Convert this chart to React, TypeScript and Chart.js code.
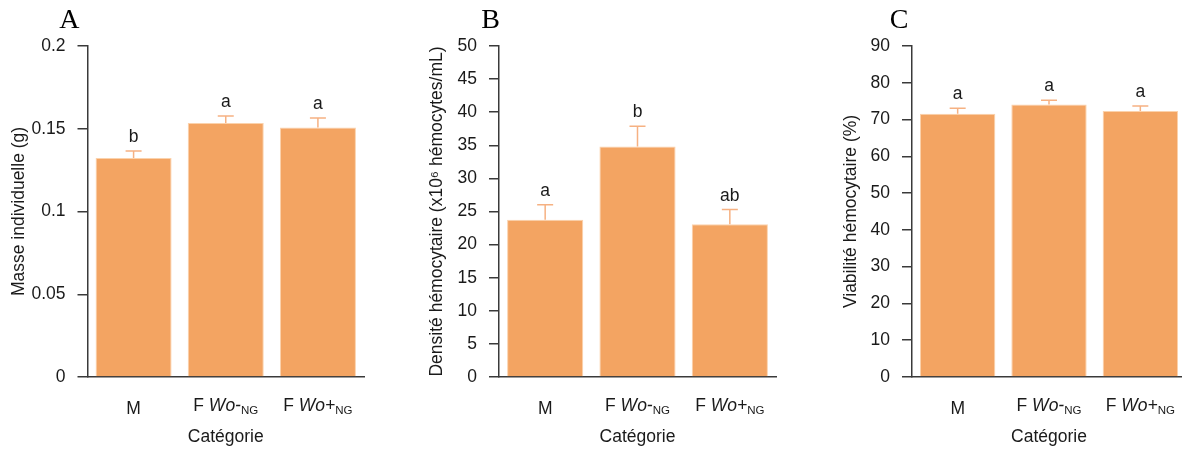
import React, { useEffect, useRef } from 'react';
import { Chart, registerables } from 'chart.js';

Chart.register(...registerables);

// ---------- data ----------
const categories = ['M', 'F Wo-NG', 'F Wo+NG'];

const massMean = [0.1323, 0.1535, 0.1507];
const massSE = [0.0043, 0.0042, 0.0058];
const massLetters = ['b', 'a', 'a'];
const massTickValues = [0, 0.05, 0.1, 0.15, 0.2];
const massTickLabels = ['0', '0.05', '0.1', '0.15', '0.2'];

const densityMean = [23.74, 34.8, 23.09];
const densitySE = [2.27, 3.08, 2.21];
const densityLetters = ['a', 'b', 'ab'];
const densityTickValues = [0, 5, 10, 15, 20, 25, 30, 35, 40, 45, 50];
const densityTickLabels = ['0', '5', '10', '15', '20', '25', '30', '35', '40', '45', '50'];

const viabilityMean = [71.6, 74.06, 72.3];
const viabilitySE = [1.5, 1.16, 1.36];
const viabilityLetters = ['a', 'a', 'a'];
const viabilityTickValues = [0, 10, 20, 30, 40, 50, 60, 70, 80, 90];
const viabilityTickLabels = ['0', '10', '20', '30', '40', '50', '60', '70', '80', '90'];

type Part = { text: string; italic?: boolean; sub?: boolean };
const categoryLabelParts: Part[][] = [
  [{ text: 'M' }],
  [{ text: 'F ' }, { text: 'Wo-', italic: true }, { text: 'NG', sub: true }],
  [{ text: 'F ' }, { text: 'Wo+', italic: true }, { text: 'NG', sub: true }],
];

// ---------- style ----------
const FONT = '"Liberation Sans", Arial, sans-serif';
const SERIF = '"Liberation Serif", "Times New Roman", serif';
const BAR_COLOR = '#F3A462';
const BAR_EDGE = '#FBD2AC';
const ERR_COLOR = '#F6B182';
const AXIS_COLOR = '#3a3a3a';
const TEXT_COLOR = '#1a1a1a';
const H = 452;

type PanelCfg = {
  left: number;
  width: number;
  areaLeft: number;
  areaRight: number;
  letter: string;
  letterX: number;
  yTitle: string;
  yTitlePad: number;
  mean: number[];
  se: number[];
  sig: string[];
  yMax: number;
  tickValues: number[];
  tickLabels: string[];
};

const panels: PanelCfg[] = [
  {
    left: 0, width: 410, areaLeft: 87.5, areaRight: 364,
    letter: 'A', letterX: 69.3,
    yTitle: 'Masse individuelle (g)', yTitlePad: 8.5,
    mean: massMean, se: massSE, sig: massLetters, yMax: 0.2,
    tickValues: massTickValues, tickLabels: massTickLabels,
  },
  {
    left: 410, width: 410, areaLeft: 89, areaRight: 366,
    letter: 'B', letterX: 80.5,
    yTitle: 'Densité hémocytaire (x10\u2076 hémocytes/mL)', yTitlePad: 16.7,
    mean: densityMean, se: densitySE, sig: densityLetters, yMax: 50,
    tickValues: densityTickValues, tickLabels: densityTickLabels,
  },
  {
    left: 820, width: 370, areaLeft: 92, areaRight: 366,
    letter: 'C', letterX: 79,
    yTitle: 'Viabilité hémocytaire (%)', yTitlePad: 20.5,
    mean: viabilityMean, se: viabilitySE, sig: viabilityLetters, yMax: 90,
    tickValues: viabilityTickValues, tickLabels: viabilityTickLabels,
  },
];

function partFont(p: Part) {
  if (p.sub) return `11.5px ${FONT}`;
  return `${p.italic ? 'italic ' : ''}17.5px ${FONT}`;
}

function Panel({ cfg }: { cfg: PanelCfg }) {
  const ref = useRef<HTMLCanvasElement | null>(null);

  useEffect(() => {
    if (!ref.current) return;
    const overlay = {
      id: 'overlay',
      afterDraw(chart: any) {
        const { ctx, chartArea } = chart;
        const x = chart.scales.x;
        const y = chart.scales.y;
        ctx.save();
        // error bars + significance letters
        cfg.mean.forEach((m, i) => {
          const cx = x.getPixelForValue(i);
          const y0 = y.getPixelForValue(m);
          const y1 = y.getPixelForValue(m + cfg.se[i]);
          ctx.strokeStyle = ERR_COLOR;
          ctx.lineWidth = 1.5;
          ctx.beginPath();
          ctx.moveTo(cx, y0);
          ctx.lineTo(cx, y1);
          ctx.moveTo(cx - 8, y1);
          ctx.lineTo(cx + 8, y1);
          ctx.stroke();
          ctx.fillStyle = TEXT_COLOR;
          ctx.font = `17.5px ${FONT}`;
          ctx.textAlign = 'center';
          ctx.textBaseline = 'alphabetic';
          ctx.fillText(cfg.sig[i], cx, y1 - 9);
        });
        // category labels (rich text)
        categoryLabelParts.forEach((parts, i) => {
          const cx = x.getPixelForValue(i);
          const hasSub = parts.some((p) => p.sub);
          const base = chartArea.bottom + (hasSub ? 33.7 : 37);
          let total = 0;
          parts.forEach((p) => {
            ctx.font = partFont(p);
            total += ctx.measureText(p.text).width;
          });
          let px = cx - total / 2;
          ctx.textAlign = 'left';
          ctx.textBaseline = 'alphabetic';
          ctx.fillStyle = TEXT_COLOR;
          parts.forEach((p) => {
            ctx.font = partFont(p);
            ctx.fillText(p.text, px, p.sub ? base + 3.6 : base);
            px += ctx.measureText(p.text).width;
          });
        });
        // panel letter
        ctx.font = `28px ${SERIF}`;
        ctx.textAlign = 'center';
        ctx.textBaseline = 'middle';
        ctx.fillStyle = '#000';
        ctx.fillText(cfg.letter, cfg.letterX, 20.5);
        ctx.restore();
      },
    };

    const chart = new Chart(ref.current, {
      type: 'bar',
      data: {
        labels: categories,
        datasets: [
          {
            data: cfg.mean,
            backgroundColor: BAR_COLOR,
            borderColor: BAR_EDGE,
            borderWidth: 1,
            barPercentage: 0.825,
            categoryPercentage: 1,
          },
        ],
      },
      options: {
        responsive: false,
        animation: false,
        layout: {
          padding: { top: 46, right: cfg.width - cfg.areaRight, left: 0, bottom: 0 },
        },
        plugins: {
          legend: { display: false },
          tooltip: { enabled: false },
        },
        scales: {
          x: {
            grid: { display: false },
            border: { display: true, color: AXIS_COLOR, width: 1.5 },
            ticks: { display: false },
            title: {
              display: true,
              text: 'Catégorie',
              color: TEXT_COLOR,
              font: { family: FONT, size: 17.5 },
              padding: { top: 0, bottom: 4 },
            },
            afterFit: (s: any) => {
              s.height = H - 377;
            },
          },
          y: {
            min: 0,
            max: cfg.yMax,
            afterBuildTicks: (s: any) => {
              s.ticks = cfg.tickValues.map((v) => ({ value: v }));
            },
            ticks: {
              color: TEXT_COLOR,
              font: { family: FONT, size: 17.5 },
              padding: 12,
              callback: (_v: any, i: number) => cfg.tickLabels[i],
            },
            grid: {
              display: true,
              drawOnChartArea: false,
              drawTicks: true,
              tickLength: 10,
              color: AXIS_COLOR,
              lineWidth: 1.5,
            },
            border: { display: true, color: AXIS_COLOR, width: 1.5 },
            title: {
              display: true,
              text: cfg.yTitle,
              color: TEXT_COLOR,
              font: { family: FONT, size: 17.5 },
              padding: { top: cfg.yTitlePad, bottom: 0 },
            },
            afterFit: (s: any) => {
              s.width = cfg.areaLeft;
            },
          },
        },
      },
      plugins: [overlay],
    } as any);
    return () => chart.destroy();
  }, [cfg]);

  return (
    <canvas
      ref={ref}
      width={cfg.width}
      height={H}
      style={{ position: 'absolute', left: cfg.left, top: 0, width: cfg.width, height: H }}
    />
  );
}

export default function App() {
  return (
    <div
      style={{
        position: 'absolute',
        left: 0,
        top: 0,
        width: 1182,
        height: H,
        overflow: 'hidden',
        background: '#fff',
      }}
    >
      {panels.map((p) => (
        <Panel key={p.letter} cfg={p} />
      ))}
    </div>
  );
}
